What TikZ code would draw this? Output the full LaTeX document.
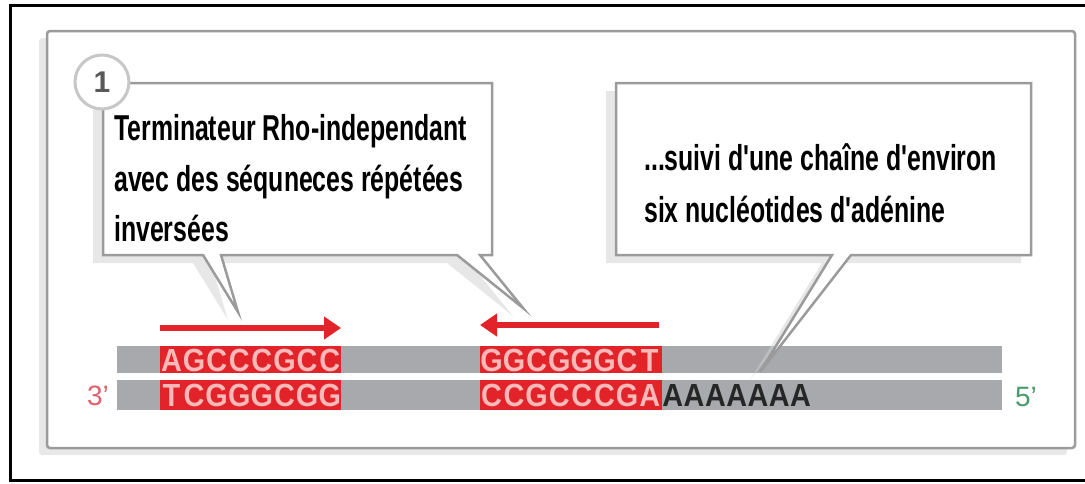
\documentclass[tikz,border=0pt]{standalone}
\usepackage{fontspec}
\setmainfont{Liberation Sans}
\newfontfamily\lblfont{Liberation Sans}[FakeStretch=0.69]
\newfontfamily\dnafont{Liberation Sans}[FakeStretch=0.9]
\usetikzlibrary{shadows,arrows.meta}
\definecolor{dnared}{HTML}{E2232A}
\definecolor{dnapink}{HTML}{F9B9B9}
\definecolor{bargray}{HTML}{A7A9AC}
\definecolor{framegray}{HTML}{9B9B9B}
\definecolor{endred}{HTML}{E0606C}
\definecolor{endgreen}{HTML}{4C9A6C}
\newdimen\dnaw
\newcommand\dnaseq[1]{\dnaloop#1\relax}
\def\dnaloop#1{\ifx#1\relax\else\makebox[\dnaw][c]{#1}\expandafter\dnaloop\fi}
\tikzset{
  panel/.style={draw=framegray, line width=2.5pt, fill=white, rounded corners=3pt,
    drop shadow={shadow xshift=-8pt, shadow yshift=-7pt, fill=black!18, opacity=0.5}},
  callout/.style={draw=framegray, line width=2.5pt, fill=white, line join=miter,
    drop shadow={shadow xshift=-10pt, shadow yshift=-8pt, fill=black!18, opacity=0.5}},
  lbl/.style={anchor=base west, inner sep=0pt, font=\lblfont\bfseries\fontsize{36}{40}\selectfont, text=black},
  dna/.style={anchor=base west, inner sep=0pt, font=\dnafont\bfseries\fontsize{32}{34}\selectfont},
  redarrow/.style={draw=dnared, line width=5.5pt, -{Triangle[length=17pt,width=22pt]}},
  endlbl/.style={inner sep=0pt, font=\fontsize{28}{30}\selectfont},
}
\begin{document}
\begin{tikzpicture}[x=1pt, y=-1pt]
\useasboundingbox (0,0) rectangle (1085,483);
% outer frame
\draw[black, line width=3pt] (10,5) rectangle (1100,480);
% inner panel
\path[panel] (47,31) rectangle (1075,448);
% DNA bars
\fill[bargray] (117,346) rectangle (1002,373);
\fill[bargray] (117,380) rectangle (1002,410);
\fill[dnared] (160,346) rectangle (341,373);
\fill[dnared] (160,380) rectangle (341,410);
\fill[dnared] (480,346) rectangle (662,373);
\fill[dnared] (480,380) rectangle (662,410);
\dnaw=22.6pt
\node[dna, text=dnapink] (s1t) at (160,371) {\dnaseq{AGCCCGCC}};
\node[dna, text=dnapink] (s1b) at (160,406.5) {\dnaseq{TCGGGCGG}};
\node[dna, text=dnapink] (s2t) at (480,371) {\dnaseq{GGCGGGCT}};
\node[dna, text=dnapink] (s2b) at (480,406.5) {\dnaseq{CCGCCCGA}};
\dnaw=21.3pt
\node[dna, text=black!85] (polya) at (662,406.5) {\dnaseq{AAAAAAA}};
\node[endlbl, text=endred] (end3) at (98,396) {3'};
\node[endlbl, text=endgreen] (end5) at (1026,397) {5'};
% left callout
\path[callout] (103,83) -- (492,83) -- (492,255) -- (480,255) -- (523,308) -- (457,255)
  -- (221,255) -- (238,312) -- (203,255) -- (103,255) -- cycle;
% right callout
\path[callout] (616,83) -- (1031,83) -- (1031,255) -- (851,255) -- (760,372) -- (832,255)
  -- (616,255) -- cycle;
% number circle
\node[circle, draw=black!22, line width=3pt, fill=white, minimum size=54pt, inner sep=0pt,
  font=\bfseries\fontsize{30}{30}\selectfont, text=black!65] (num) at (102,82) {1};
% texts
\node[lbl] (t1a) at (114,140) {Terminateur Rho-independant};
\node[lbl] (t1b) at (114,191) {avec des séquneces répétées};
\node[lbl] (t1c) at (114,241) {inversées};
\node[lbl] (t2a) at (644,170) {...suivi d'une chaîne d'environ};
\node[lbl] (t2b) at (644,222) {six nucléotides d'adénine};
% arrows
\coordinate (a1s) at (160,328);
\coordinate (a1e) at (341,328);
\coordinate (a2s) at (659,325);
\coordinate (a2e) at (480,325);
\draw[redarrow] (a1s) -- (a1e);
\draw[redarrow] (a2s) -- (a2e);
\end{tikzpicture}
\end{document}
